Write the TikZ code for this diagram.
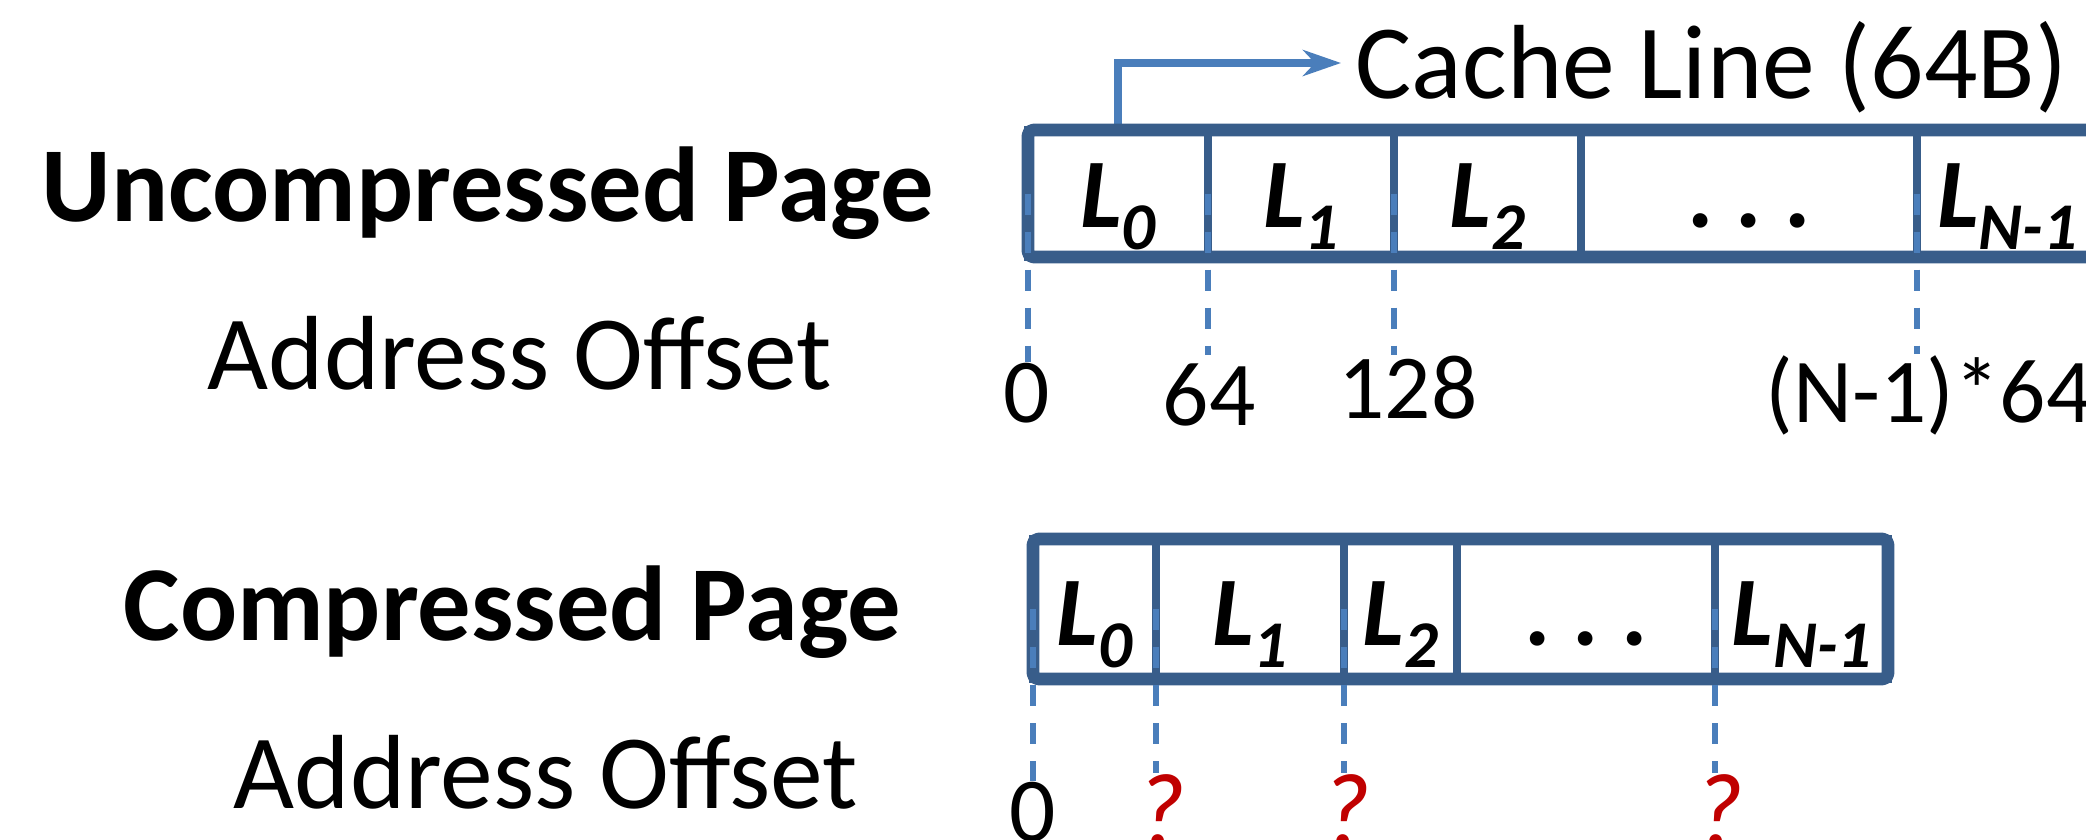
\documentclass[tikz,border=0pt]{standalone}
\usepackage{fontspec}
\setmainfont{Carlito}
\usetikzlibrary{arrows.meta}
\definecolor{boxblue}{HTML}{385D8A}
\definecolor{lineblue}{HTML}{4A7EBB}
\definecolor{qred}{HTML}{C00000}
\newcommand{\Lcell}[1]{{\fontsize{28}{34}\selectfont\bfseries\itshape L\raisebox{-6.3pt}{\fontsize{19}{23}\selectfont #1}}}
\begin{document}
\begin{tikzpicture}[
  cell/.style={draw=boxblue, line width=2.2pt, outer sep=0pt, inner sep=0pt},
  topcell/.style={cell, minimum height=1.27cm},
  botcell/.style={cell, minimum height=1.40cm},
  frame/.style={draw=boxblue, line width=3.6pt, line join=round, rounded corners=1.5pt},
  dashln/.style={draw=lineblue, line width=1.7pt, dash pattern=on 0.21cm off 0.17cm},
  arrowln/.style={draw=lineblue, line width=2pt, -{Stealth[length=0.38cm, width=0.26cm, inset=0.12cm]}},
  celltxt/.style={inner sep=0pt, anchor=base},
  dotstxt/.style={inner sep=0pt, anchor=base, font=\fontsize{28}{34}\selectfont\bfseries\frenchspacing},
  biglbl/.style={inner sep=0pt, anchor=base west, font=\fontsize{30.3}{36}\selectfont\bfseries},
  lbl/.style={inner sep=0pt, anchor=base west, font=\fontsize{30}{36}\selectfont},
  numlbl/.style={inner sep=0pt, anchor=base, font=\fontsize{26}{31}\selectfont},
  qlbl/.style={inner sep=0pt, anchor=base, text=qred, font=\fontsize{30}{36}\selectfont\itshape}
]
\useasboundingbox (0,0) rectangle (20.86,-8.39);
\clip (0,0) rectangle (20.86,-8.39);

% left labels
\node[biglbl] (unc) at (0.41,-2.21) {Uncompressed Page};
\node[lbl] (ao1) at (2.07,-3.89) {Address Offset};
\node[biglbl] (cmp) at (1.23,-6.40) {Compressed Page};
\node[lbl] (ao2) at (2.33,-8.08) {Address Offset};

% uncompressed page cells
\node[topcell, minimum width=1.80cm] (t0) at (11.18,-1.935) {};
\node[topcell, minimum width=1.86cm] (t1) at (13.01,-1.935) {};
\node[topcell, minimum width=1.87cm] (t2) at (14.875,-1.935) {};
\node[topcell, minimum width=3.36cm] (t3) at (17.49,-1.935) {};
\node[topcell, minimum width=1.80cm] (t4) at (20.07,-1.935) {};

% cache line arrow
\coordinate (clend) at (13.41,-0.63);
\draw[arrowln] (t0.north) |- (clend);
\node[lbl] (cl) at (13.55,-0.98) {Cache Line (64B)};

\draw[frame] (t0.north west) rectangle (t4.south east);

\node[celltxt] (lt0) at ([yshift=-0.335cm]t0.center) {\Lcell{0}};
\node[celltxt] (lt1) at ([yshift=-0.335cm]t1.center) {\Lcell{1}};
\node[celltxt] (lt2) at ([yshift=-0.335cm]t2.center) {\Lcell{2}};
\node[dotstxt] (lt3) at ([yshift=-0.335cm]t3.center) {.\ .\ .};
\node[celltxt] (lt4) at ([yshift=-0.335cm]t4.center) {\Lcell{N-1}};

% uncompressed offsets
\node[numlbl] (n0) at (10.27,-4.22) {0};
\node[numlbl] (n1) at (12.09,-4.25) {64};
\node[numlbl] (n2) at (14.08,-4.18) {128};
\node[inner sep=0pt, anchor=base west, font=\fontsize{26}{31}\selectfont] (n3) at (17.65,-4.22) {(N-1)*64};

\draw[dashln] (t0.west) -- (t0.west |- n0.north);
\draw[dashln] (t1.west) -- (t1.west |- n2.north);
\draw[dashln] (t2.west) -- (t2.west |- n2.north);
\draw[dashln] (t4.west) -- (t4.west |- n3.north);

% compressed page cells
\node[botcell, minimum width=1.23cm] (b0) at (10.945,-6.09) {};
\node[botcell, minimum width=1.88cm] (b1) at (12.50,-6.09) {};
\node[botcell, minimum width=1.13cm] (b2) at (14.005,-6.09) {};
\node[botcell, minimum width=2.58cm] (b3) at (15.86,-6.09) {};
\node[botcell, minimum width=1.73cm] (b4) at (18.015,-6.09) {};
\draw[frame] (b0.north west) rectangle (b4.south east);

\node[celltxt] (lb0) at ([yshift=-0.36cm]b0.center) {\Lcell{0}};
\node[celltxt] (lb1) at ([yshift=-0.36cm]b1.center) {\Lcell{1}};
\node[celltxt] (lb2) at ([yshift=-0.36cm]b2.center) {\Lcell{2}};
\node[dotstxt] (lb3) at ([yshift=-0.36cm]b3.center) {.\ .\ .};
\node[celltxt] (lb4) at ([yshift=-0.36cm]b4.center) {\Lcell{N-1}};

% compressed offsets
\node[numlbl] (m0) at (10.33,-8.41) {0};
\node[qlbl] (q1) at (11.61,-8.46) {?};
\node[qlbl] (q2) at (13.46,-8.46) {?};
\node[qlbl] (q3) at (17.19,-8.46) {?};

\draw[dashln] (b0.west) -- (b0.west |- m0.north);
\draw[dashln] (b1.west) -- (b1.west |- q1.north);
\draw[dashln] (b2.west) -- (b2.west |- q2.north);
\draw[dashln] (b4.west) -- (b4.west |- q3.north);
\end{tikzpicture}
\end{document}
